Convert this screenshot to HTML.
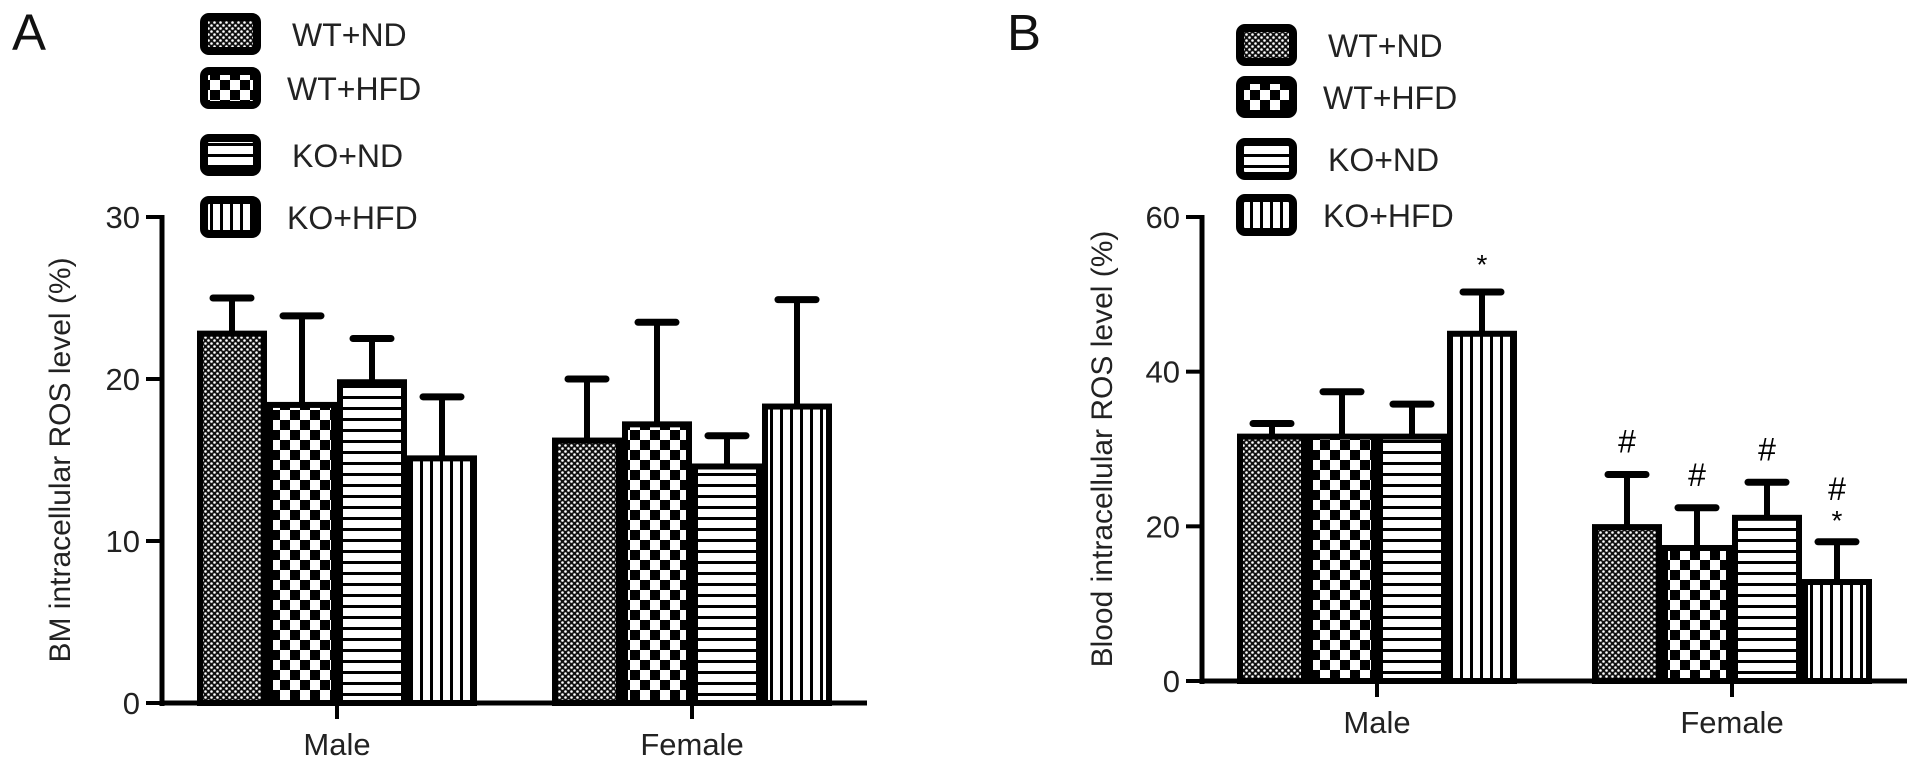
<!DOCTYPE html>
<html><head><meta charset="utf-8"><style>
html,body{margin:0;padding:0;background:#fff;width:1913px;height:768px;overflow:hidden}
svg{display:block;font-family:"Liberation Sans",Arial,sans-serif}
</style></head><body>
<svg id="fig" width="1913" height="768" viewBox="0 0 1913 768" xmlns="http://www.w3.org/2000/svg">
<defs>
<pattern id="p0" width="6" height="6" patternUnits="userSpaceOnUse"><rect width="6" height="6" fill="#111"/><circle cx="1.5" cy="1.5" r="1.3" fill="#fff"/><circle cx="4.5" cy="4.5" r="1.3" fill="#fff"/></pattern>
<pattern id="p1" width="20" height="20" patternUnits="userSpaceOnUse"><rect width="20" height="20" fill="#fff"/><rect width="10" height="10" fill="#000"/><rect x="10" y="10" width="10" height="10" fill="#000"/></pattern>
<pattern id="p2" width="11" height="11" patternUnits="userSpaceOnUse"><rect width="11" height="11" fill="#fff"/><rect y="0" width="11" height="3" fill="#000"/></pattern>
<pattern id="p3" width="10" height="10" patternUnits="userSpaceOnUse"><rect width="10" height="10" fill="#fff"/><rect x="0" width="3" height="10" fill="#000"/></pattern>
</defs>
</svg>
<script>
const groups = ["Male","Female"];
const seriesNames = ["WT+ND","WT+HFD","KO+ND","KO+HFD"];
// Panel A values [Male, Female] per series
const aWTND = [22.8, 16.2];
const aWTHFD = [18.4, 17.2];
const aKOND = [19.8, 14.6];
const aKOHFD = [15.1, 18.3];
const aErrWTND = [25.0, 20.0];
const aErrWTHFD = [23.9, 23.5];
const aErrKOND = [22.5, 16.5];
const aErrKOHFD = [18.9, 24.9];
const aTicks = [0,10,20,30];
// Panel B values
const bWTND = [31.6, 19.9];
const bWTHFD = [31.6, 17.2];
const bKOND = [31.6, 21.1];
const bKOHFD = [44.9, 12.8];
const bErrWTND = [33.3, 26.7];
const bErrWTHFD = [37.4, 22.4];
const bErrKOND = [35.8, 25.7];
const bErrKOHFD = [50.3, 18.0];
const bTicks = [0,20,40,60];
const bHash = [[null,null,null,null],["#","#","#","#"]];
const bStar = [[null,null,null,"*"],[null,null,null,"*"]];

const NS="http://www.w3.org/2000/svg";
const svg=document.getElementById('fig');
function mk(tag,attrs,parent){const e=document.createElementNS(NS,tag);for(const k in attrs)e.setAttribute(k,attrs[k]);(parent||svg).appendChild(e);return e;}

function panel(cfg){
  const g=mk('g',{});
  
  
  const y=v=>cfg.y0-(v/cfg.max)*(cfg.y0-cfg.yTop);
  const barW=70;
  const groupStart=[cfg.ax+35, cfg.ax+390];
  const vals=cfg.vals, errs=cfg.errs;
  // bars
  for(let gi=0;gi<groups.length;gi++){
    for(let s=0;s<4;s++){
      const x=groupStart[gi]+s*barW;
      const v=vals[s][gi], e=errs[s][gi];
      const cx=x+barW/2;
      const st=mk('line',{x1:cx,x2:cx,y1:y(v),y2:y(e),stroke:'#000','stroke-width':6},g);
      
      
      const cp=mk('line',{x1:cx-19,x2:cx+19,y1:y(e),y2:y(e),stroke:'#000','stroke-width':7,'stroke-linecap':'round'},g);
      
      
      const r=mk('rect',{x:x+3,y:y(v),width:barW-6,height:cfg.y0-y(v),fill:'url(#p'+s+')',stroke:'#000','stroke-width':6},g);
      
      
      if(cfg.hash){
        if(cfg.hash[gi][s]){const t=mk('text',{x:cx,y:(cfg.star&&cfg.star[gi][s]&&gi==1)?y(e)-42:y(e)-22,'font-size':32,'text-anchor':'middle'},g);t.textContent=cfg.hash[gi][s];
          
          }
        if(cfg.star[gi][s]){const t=mk('text',{x:cx,y:y(e)-(gi==1?12:18),'font-size':28,'text-anchor':'middle'},g);t.textContent=cfg.star[gi][s];
          
          }
      }
    }
  }
  // axes
  const ya=mk('line',{x1:cfg.ax,x2:cfg.ax,y1:cfg.yTop-2,y2:cfg.y0+3,stroke:'#000','stroke-width':5},g);
  
  
  const xa=mk('line',{x1:cfg.ax-2,x2:cfg.ax+705,y1:cfg.y0,y2:cfg.y0,stroke:'#000','stroke-width':5},g);
  
  
  cfg.ticks.forEach(t=>{
    mk('line',{x1:cfg.ax-16,x2:cfg.ax,y1:y(t),y2:y(t),stroke:'#000','stroke-width':4},g);
    const tl=mk('text',{x:cfg.ax-22,y:y(t)+11,'font-size':31,'text-anchor':'end',fill:'#222'},g);
    tl.textContent=t;
    
    
  });
  groups.forEach((n,gi)=>{
    const cx=groupStart[gi]+2*barW;
    mk('line',{x1:cx,x2:cx,y1:cfg.y0,y2:cfg.y0+16,stroke:'#000','stroke-width':4},g);
    const t=mk('text',{x:cx,y:cfg.y0+52,'font-size':31,'text-anchor':'middle',fill:'#222'},g);
    t.textContent=n;
    
    
  });
  const yt=mk('text',{x:0,y:0,'font-size':30,'text-anchor':'middle',fill:'#222',transform:`translate(${cfg.titleX},${(cfg.yTop+cfg.y0)/2}) rotate(-90)`},g);
  yt.textContent=cfg.title;
  
  
  // legend
  cfg.legY.forEach((ly,s)=>{
    const lg=mk('g',{},g);
    
    
    mk('rect',{x:cfg.legX+4,y:ly-17,width:53,height:34,rx:5,fill:'url(#p'+s+')',stroke:'#000','stroke-width':8},lg);
    const t=mk('text',{x:cfg.legX+(s%2?87:92),y:ly+12,'font-size':32,fill:'#222'},lg);
    t.textContent=seriesNames[s];
  });
  const pl=mk('text',{x:cfg.letterX,y:50,'font-size':51,fill:'#111'},g);
  pl.textContent=cfg.letter;
  
  
}
panel({name:'panel-a',letter:'A',letterX:12,ax:162,y0:703,yTop:217,max:30,ticks:aTicks,
  vals:[aWTND,aWTHFD,aKOND,aKOHFD],errs:[aErrWTND,aErrWTHFD,aErrKOND,aErrKOHFD],
  title:'BM intracellular ROS level (%)',titleX:70,legX:200,legY:[34,88,155,217]});
panel({name:'panel-b',letter:'B',letterX:1007,ax:1202,y0:681,yTop:217,max:60,ticks:bTicks,
  vals:[bWTND,bWTHFD,bKOND,bKOHFD],errs:[bErrWTND,bErrWTHFD,bErrKOND,bErrKOHFD],
  hash:bHash,star:bStar,
  title:'Blood intracellular ROS level (%)',titleX:1112,legX:1236,legY:[45,97,159,215]});
</script>
</body></html>
